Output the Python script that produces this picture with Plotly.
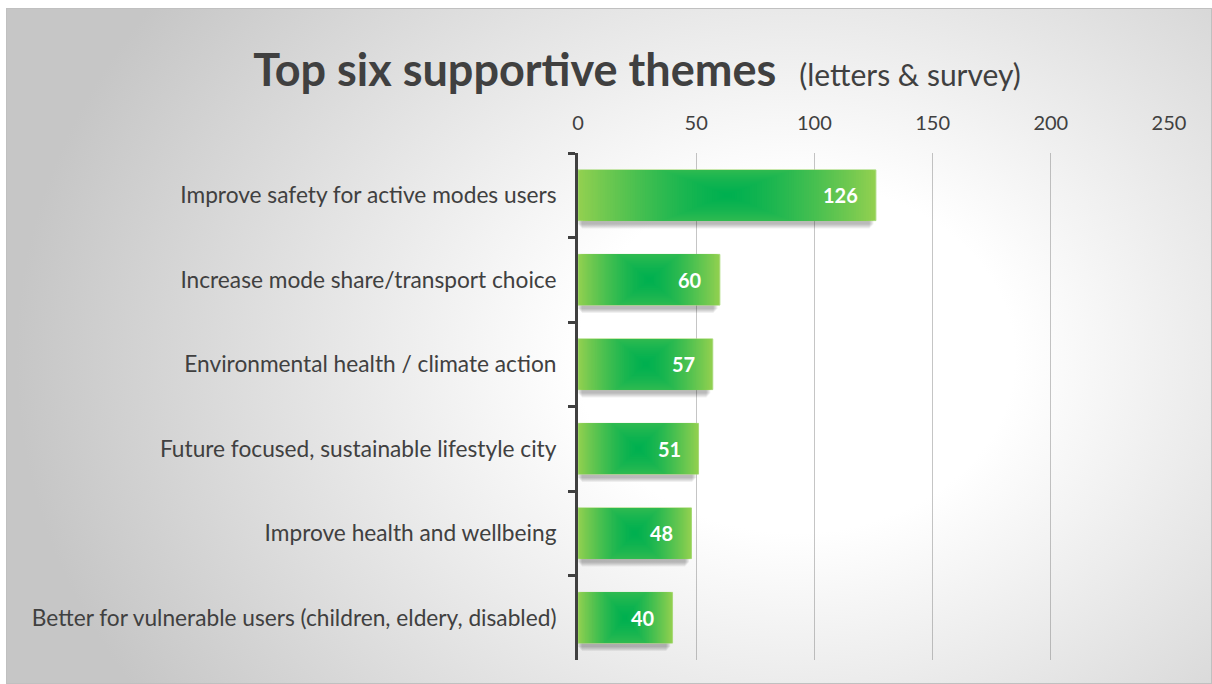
import base64
import plotly.graph_objects as go

# Survey / letter themes and how often each was mentioned
themes = [
    "Improve safety for active modes users",
    "Increase mode share/transport choice",
    "Environmental health / climate action",
    "Future focused, sustainable lifestyle city",
    "Improve health and wellbeing",
    "Better for vulnerable users (children, eldery, disabled)",
]
mentions = [126, 60, 57, 51, 48, 40]
tick_values = [0, 50, 100, 150, 200, 250]

FONT = "Lato"
TEXT_COL = "#404040"
BAR_W = 0.6
EDGE_GREEN = (0x92, 0xD0, 0x50)
CORE_GREEN = (0x00, 0xB0, 0x50)

W, H = 1212, 684
L, R, T, B = 578, 43, 153, 24
plot_w, plot_h = W - L - R, H - T - B

fig = go.Figure()

# soft drop shadow under each bar
for j in range(5):
    shift = 0.045 + 0.012 * j
    fig.add_trace(go.Bar(
        y=themes, x=[v - 1.0 - 0.8 * j for v in mentions], base=[0.4 * j for _ in mentions],
        orientation="h", width=BAR_W, offset=-BAR_W / 2 + shift,
        marker=dict(color="rgba(0,0,0,0.06)", line=dict(width=0)),
        hoverinfo="skip", showlegend=False,
    ))

# centre gradient: nested rectangles from light edge to dark core
N = 60
for k in range(N):
    s = 1 - k / N
    f = 1 - s ** 1.4
    col = "rgb({},{},{})".format(*[round(e + (c - e) * f) for e, c in zip(EDGE_GREEN, CORE_GREEN)])
    fig.add_trace(go.Bar(
        y=themes, x=[v * s for v in mentions], base=[v * (1 - s) / 2 for v in mentions],
        orientation="h", width=BAR_W * min(1.0, 2.3 * s),
        marker=dict(color=col, line=dict(width=1 if k == 0 else 0, color="#a6d978")),
        hoverinfo="skip", showlegend=False,
    ))

# value labels at the inside end of each bar
for name, v in zip(themes, mentions):
    fig.add_annotation(
        x=v, y=name, xref="x", yref="y", text=f"<b>{v}</b>", showarrow=False,
        xanchor="right", xshift=-16, font=dict(family=FONT, size=20, color="white"),
    )

# grey radial backdrop behind the whole chart
svg = f"""<svg xmlns='http://www.w3.org/2000/svg' width='1206' height='676' viewBox='0 0 1206 676' preserveAspectRatio='none'>
<defs><radialGradient id='g' gradientUnits='userSpaceOnUse' cx='790' cy='350' r='780'
 gradientTransform='translate(790 350) scale(1 0.8) translate(-790 -350)'>
<stop offset='0' stop-color='#ffffff'/><stop offset='0.28' stop-color='#ffffff'/>
<stop offset='1' stop-color='#c6c6c6'/></radialGradient></defs>
<rect x='0.5' y='0.5' width='1205' height='675' fill='url(#g)' stroke='#c0c0c0' stroke-width='1'/></svg>"""
src = "data:image/svg+xml;base64," + base64.b64encode(svg.encode()).decode()
fig.add_layout_image(
    source=src, xref="paper", yref="paper",
    x=(6 - L) / plot_w, y=(H - B - 8) / plot_h,
    sizex=1206 / plot_w, sizey=676 / plot_h,
    xanchor="left", yanchor="top", sizing="stretch", layer="below",
)

fig.update_layout(
    width=W, height=H,
    margin=dict(l=L, r=R, t=T, b=B, pad=0),
    paper_bgcolor="white", plot_bgcolor="rgba(0,0,0,0)",
    barmode="overlay", showlegend=False,
    font=dict(family=FONT, color=TEXT_COL, size=20),
    title=dict(
        text="<b>Top six supportive themes</b>&nbsp;&nbsp;<span style='font-size:30px;font-weight:normal'>(letters &amp; survey)</span>",
        x=637 / W, xanchor="center", y=1 - 70 / H, yanchor="middle",
        font=dict(family=FONT, size=45, color=TEXT_COL),
    ),
    xaxis=dict(
        side="top", range=[0, 250], tickvals=tick_values, showgrid=True,
        gridcolor="rgba(110,110,110,0.4)", gridwidth=1, zeroline=False,
        showline=False, ticks="", tickfont=dict(size=20, color=TEXT_COL),
        ticklabelstandoff=18, fixedrange=True,
    ),
    yaxis=dict(
        type="category", categoryorder="array", categoryarray=themes,
        range=[len(themes) - 0.5, -0.5], showgrid=False, zeroline=False,
        showline=True, linecolor=TEXT_COL, linewidth=3,
        ticks="outside", tickson="boundaries", ticklen=7, tickwidth=3, tickcolor=TEXT_COL,
        ticklabelstandoff=14, tickfont=dict(size=22.7, color=TEXT_COL),
    ),
)

fig.write_html("out.html")
